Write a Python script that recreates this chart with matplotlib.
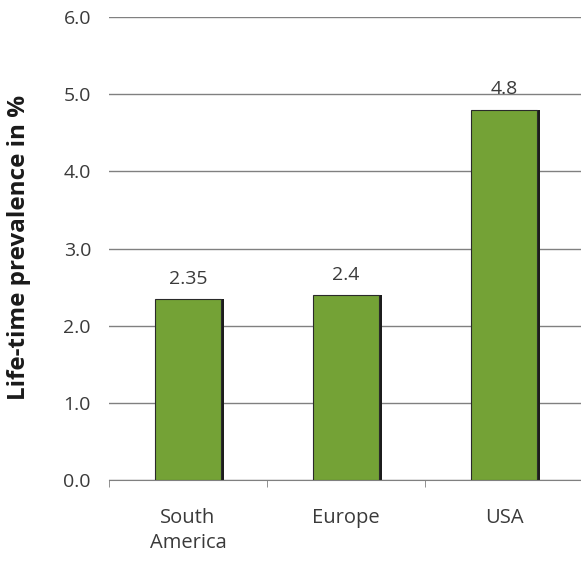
import matplotlib
matplotlib.use("Agg")
import matplotlib.pyplot as plt

categories = ["South\nAmerica", "Europe", "USA"]
values = [2.35, 2.4, 4.8]
value_labels = ["2.35", "2.4", "4.8"]
yticks = [0.0, 1.0, 2.0, 3.0, 4.0, 5.0, 6.0]

plt.rcParams['font.family'] = ['Open Sans', 'DejaVu Sans']

fig = plt.figure(figsize=(5.81, 5.61), dpi=100)
ax = fig.add_axes([109/581, 1-480/561, (583-109)/581, (480-17)/561])

x = list(range(len(categories)))
w = 0.42
green = "#74A236"
txt = "#3a3a3a"
# shadow
ax.bar([i + 0.016 for i in x], values, width=w, color="#1c1c1c", zorder=2)
ax.bar(x, values, width=w, color=green, edgecolor="#2a2a2a", linewidth=0.8, zorder=3)

for i, v in enumerate(values):
    ax.annotate(value_labels[i], (x[i], v), xytext=(0, 8), textcoords="offset points",
                ha="center", va="bottom", fontsize=14, color=txt)

ax.set_xlim(-0.5, 2.5)
ax.set_ylim(0, 6)
ax.set_yticks(yticks)
ax.set_yticklabels([f"{t:.1f}" for t in yticks], fontsize=14, color=txt)
ax.yaxis.grid(True, color="#808080", linewidth=1)
ax.set_axisbelow(True)
ax.tick_params(axis="y", length=0, pad=13)
ax.set_xticks(x)
ax.set_xticklabels(categories, fontsize=14.5, color=txt, linespacing=1.35)
ax.set_xticks([-0.5, 0.5, 1.5, 2.5], minor=True)
ax.tick_params(axis="x", which="major", length=0, pad=20)
ax.tick_params(axis="x", which="minor", length=5, color="#808080", direction="out")
for s in ["left", "right", "top"]:
    ax.spines[s].set_visible(False)
ax.spines["bottom"].set_color("#808080")
ax.set_ylabel("Life-time prevalence in %", fontsize=17.5, fontweight="bold", color="#1a1a1a")
ax.yaxis.set_label_coords((31 - 109) / 474, (480 - 247) / 463)

fig.savefig("out.png", dpi=100)
